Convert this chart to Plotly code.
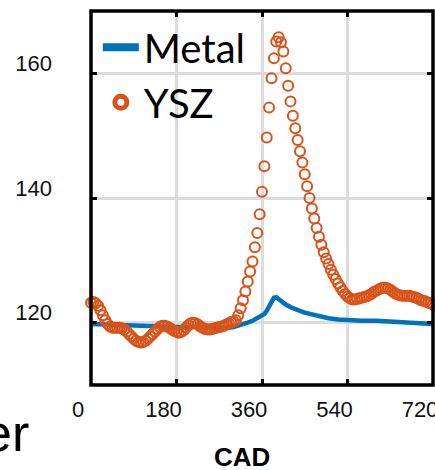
import plotly.graph_objects as go

# ---- data ----
ysz_cad = list(range(0, 725, 5))
ysz_val = [
    123.2, 123.3, 123.1, 122.7, 122.0, 121.2, 120.4, 119.8, 119.4, 119.2,   # 0-45
    119.2, 119.2, 119.2, 119.1, 118.9, 118.6, 118.2, 117.8, 117.4, 117.1,   # 50-95
    116.9, 116.8, 116.9, 117.1, 117.4, 117.8, 118.2, 118.6, 119.0, 119.3,   # 100-145
    119.5, 119.5, 119.4, 119.2, 118.9, 118.7, 118.5, 118.4, 118.5, 118.8,   # 150-195
    119.2, 119.6, 119.9, 120.0, 119.9, 119.7, 119.4, 119.2, 119.0, 118.9,   # 200-245
    118.9, 119.0, 119.1, 119.2, 119.3, 119.4, 119.5, 119.7, 119.9, 120.1,   # 250-295
    120.2, 120.4, 121.2, 122.3, 123.6, 125.0, 126.6, 128.2, 129.8, 132.1,   # 300-345
    134.4, 137.4, 141.0, 145.1, 149.7, 154.5, 159.2, 162.4, 165.1, 165.8,   # 350-395
    165.0, 163.5, 160.8, 158.0, 155.5, 153.2, 151.2, 149.3, 147.5, 145.7,   # 400-445
    143.8, 141.9, 140.0, 138.3, 136.7, 135.2, 133.8, 132.5, 131.3, 130.3,   # 450-495
    129.4, 128.5, 127.7, 127.0, 126.3, 125.7, 125.1, 124.6, 124.2, 123.9,   # 500-545
    123.7, 123.7, 123.8, 123.9, 124.0, 124.1, 124.2, 124.4, 124.6, 124.9,   # 550-595
    125.1, 125.3, 125.5, 125.6, 125.6, 125.5, 125.3, 125.0, 124.7, 124.5,   # 600-645
    124.4, 124.3, 124.3, 124.3, 124.3, 124.2, 124.1, 124.0, 123.8, 123.6,   # 650-695
    123.5, 123.4, 123.2, 123.1, 122.9,                                      # 700-720
]

metal_cad = [0, 30, 60, 90, 120, 150, 180, 210, 240, 270, 290, 300, 310, 320,
             330, 340, 350, 360, 365, 370, 375, 380, 385, 390, 395, 400, 410,
             420, 430, 440, 450, 460, 470, 480, 500, 520, 540, 570, 600, 630,
             660, 690, 720]
metal_val = [119.8, 119.7, 119.6, 119.5, 119.4, 119.4, 119.3, 119.3, 119.2,
             119.2, 119.2, 119.3, 119.5, 119.7, 120.0, 120.3, 120.7, 121.1,
             121.4, 121.9, 122.7, 123.5, 124.0, 124.1, 123.8, 123.4, 122.9,
             122.5, 122.1, 121.9, 121.6, 121.4, 121.2, 121.0, 120.7, 120.5,
             120.4, 120.3, 120.3, 120.2, 120.1, 120.0, 119.8]

x_ticks = [0, 180, 360, 540, 720]
y_ticks = [120, 140, 160]
x_title = "CAD"
series_names = ["Metal", "YSZ"]

BLUE = "#0072BD"
ORANGE = "#D95319"

fig = go.Figure()

fig.add_trace(go.Scatter(
    x=metal_cad, y=metal_val, mode="lines", name=series_names[0],
    line=dict(color=BLUE, width=4.5), showlegend=False, cliponaxis=False))
fig.add_trace(go.Scatter(
    x=ysz_cad, y=ysz_val, mode="markers", name=series_names[1],
    marker=dict(symbol="circle-open", size=10, color=ORANGE,
                line=dict(color=ORANGE, width=2)),
    showlegend=False, cliponaxis=False))

# legend keys
fig.add_trace(go.Scatter(
    x=[None], y=[None], mode="lines", name=series_names[0],
    line=dict(color=BLUE, width=8)))
fig.add_trace(go.Scatter(
    x=[None], y=[None], mode="markers", name=series_names[1],
    marker=dict(symbol="circle-open", size=12, color=ORANGE,
                line=dict(color=ORANGE, width=5))))

tick_font = dict(family="Liberation Sans, Arial", size=22, color="#111111")

fig.update_xaxes(
    range=[0, 720], tickvals=x_ticks, ticktext=[str(v) for v in x_ticks],
    showgrid=True, gridcolor="#dcdcdc", gridwidth=2.5, zeroline=False,
    showline=False, ticks="inside", ticklen=6, tickwidth=3, tickcolor="black",
    mirror="ticks", tickfont=tick_font, ticklabelshift=-13,
    ticklabelstandoff=9, ticklabeloverflow="allow", automargin=False)
fig.update_yaxes(
    range=[110, 170], tickvals=y_ticks, ticktext=[str(v) for v in y_ticks],
    showgrid=True, gridcolor="#dcdcdc", gridwidth=2.5, zeroline=False,
    showline=False, ticks="inside", ticklen=6, tickwidth=3, tickcolor="black",
    mirror="ticks", tickfont=tick_font, ticklabelshift=-10,
    ticklabelstandoff=38, automargin=False)

fig.add_shape(type="rect", xref="paper", yref="paper", x0=0, x1=1, y0=0, y1=1,
              line=dict(color="black", width=3.5), layer="above")

fig.add_annotation(xref="paper", yref="paper", x=(241.5 - 91) / 342,
                   y=(384.5 - 456) / 374, text="<b>" + x_title + "</b>",
                   showarrow=False, xanchor="center", yanchor="middle",
                   font=dict(family="Liberation Sans, Arial", size=26, color="black"))

# clipped text from a neighbouring panel
fig.add_annotation(xref="paper", yref="paper", x=(31 - 91) / 342,
                   y=(384.5 - 432) / 374, text="er",
                   showarrow=False, xanchor="right", yanchor="middle",
                   font=dict(family="Liberation Sans, Arial", size=52, color="black"))

fig.update_layout(
    width=435, height=470,
    margin=dict(l=91, r=2, t=11, b=85),
    paper_bgcolor="white", plot_bgcolor="white",
    showlegend=True,
    legend=dict(x=0.02, y=0.99, xanchor="left", yanchor="top",
                bgcolor="rgba(0,0,0,0)", borderwidth=0,
                font=dict(family="Lato, Liberation Sans", size=40, color="black"),
                itemwidth=36, tracegroupgap=0),
)

fig.write_html("out.html")
